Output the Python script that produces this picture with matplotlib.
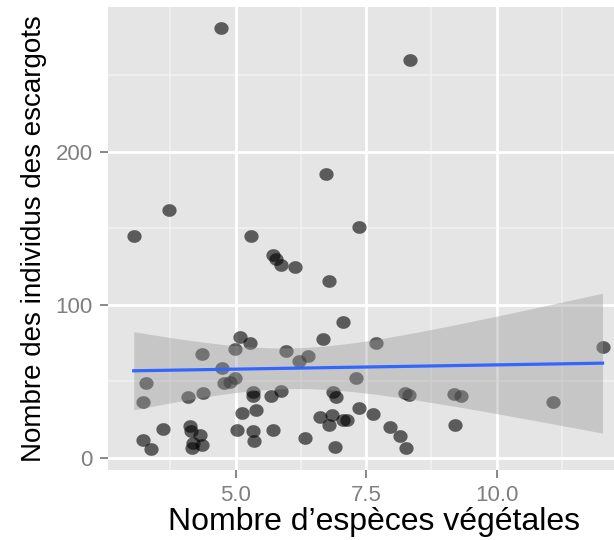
import numpy as np
import matplotlib
matplotlib.use("Agg")
import matplotlib.pyplot as plt
from matplotlib.path import Path

# Data
especes = [4.72, 8.34, 6.73, 3.73, 3.05, 5.29, 7.37, 5.71, 5.78, 5.87, 6.13, 6.80,
           7.05, 5.09, 5.28, 6.68, 7.70, 4.99, 5.97, 4.35, 6.39, 6.22, 4.75, 12.03,
           4.77, 4.90, 4.99, 3.28, 3.22, 4.08, 4.38, 5.33, 5.33, 5.67, 5.87, 6.87,
           6.93, 7.30, 8.25, 8.33, 9.19, 9.31, 11.09, 5.12, 5.39, 6.61, 6.84, 6.80,
           7.05, 7.13, 7.37, 7.64, 7.95, 8.15, 8.27, 9.20, 3.61, 4.12, 4.15, 4.32,
           4.18, 4.35, 4.16, 3.23, 3.38, 5.02, 5.33, 5.35, 5.71, 6.33, 6.91]
escargots = [280.7, 260.0, 185.3, 161.8, 145.0, 145.0, 150.6, 132.5, 129.7, 126.0, 124.9, 115.8,
             88.6, 79.2, 74.8, 77.6, 74.8, 70.9, 70.0, 67.8, 66.7, 63.3, 58.5, 72.2,
             48.7, 49.8, 52.0, 48.7, 36.7, 40.0, 42.2, 43.2, 40.4, 40.4, 43.9, 42.8,
             40.0, 52.0, 42.5, 41.0, 41.5, 40.6, 36.7, 29.5, 31.2, 26.9, 28.0, 21.4,
             25.0, 24.5, 32.2, 28.6, 19.9, 14.4, 6.2, 21.4, 18.8, 20.5, 17.5, 14.9,
             9.9, 8.4, 6.2, 11.4, 6.0, 18.2, 17.7, 11.2, 18.2, 13.1, 7.3]

x_ticks = [5.0, 7.5, 10.0]
x_tick_labels = ["5.0", "7.5", "10.0"]
y_ticks = [0, 100, 200]
y_tick_labels = ["0", "100", "200"]

x_label = "Nombre d\u2019esp\u00e8ces v\u00e9g\u00e9tales"
y_label = "Nombre des individus des escargots"

x = np.array(especes)
y = np.array(escargots)

# linear model with 95% confidence band
n = len(x)
b1, b0 = np.polyfit(x, y, 1)
xm = x.mean()
sxx = np.sum((x - xm) ** 2)
resid = y - (b0 + b1 * x)
s = np.sqrt(np.sum(resid ** 2) / (n - 2))
xs = np.linspace(x.min(), x.max(), 100)
yhat = b0 + b1 * xs
se = s * np.sqrt(1.0 / n + (xs - xm) ** 2 / sxx)
tq = 1.994
lo = yhat - tq * se
hi = yhat + tq * se

plt.rcParams['font.family'] = ['Liberation Sans', 'DejaVu Sans']

# slightly wide ellipse marker (reference image is horizontally stretched)
t = np.linspace(0, 2 * np.pi, 61)
ell = Path(np.column_stack([1.12 * np.cos(t), np.sin(t)]), closed=True)

W, H = 614, 540
fig = plt.figure(figsize=(W / 100, H / 100), dpi=100)
left, right, top, bottom = 108, 614, 7, 470
ax = fig.add_axes([left / W, 1 - bottom / H, (right - left) / W, (bottom - top) / H])
ax.set_facecolor("#E5E5E5")
for sp in ax.spines.values():
    sp.set_visible(False)

ax.set_xlim(2.557, 12.25)
ax.set_ylim(-8.0, 294.6)

# grid
for v in [3.75, 6.25, 8.75, 11.25]:
    ax.axvline(v, color="#F2F2F2", lw=1.1, zorder=0.5)
for v in [50, 150, 250]:
    ax.axhline(v, color="#F2F2F2", lw=1.1, zorder=0.5)
for v in x_ticks:
    ax.axvline(v, color="white", lw=2.0, zorder=0.6)
for v in y_ticks:
    ax.axhline(v, color="white", lw=2.0, zorder=0.6)

ax.scatter(x, y, s=105, marker=ell, color="black", alpha=0.6, linewidths=0, zorder=2)
ax.fill_between(xs, lo, hi, color="#999999", alpha=0.4, linewidth=0, zorder=3)
ax.plot(xs, yhat, color="#3366FF", lw=2.3, zorder=4)

ax.set_xticks(x_ticks)
ax.set_xticklabels(x_tick_labels)
ax.set_yticks(y_ticks)
ax.set_yticklabels(y_tick_labels)
ax.tick_params(axis="both", colors="#7F7F7F", labelcolor="#7F7F7F", labelsize=16,
               length=6, width=1.3, pad=5)

ax.set_xlabel(x_label, fontsize=23, color="black")
ax.set_ylabel(y_label, fontsize=20, color="black")
ax.xaxis.set_label_coords((374 - left) / (right - left), (H - 507 - (H - bottom)) / (bottom - top))
ax.yaxis.set_label_coords((47 - left) / (right - left), 0.5)

fig.savefig("out.png", dpi=100)
